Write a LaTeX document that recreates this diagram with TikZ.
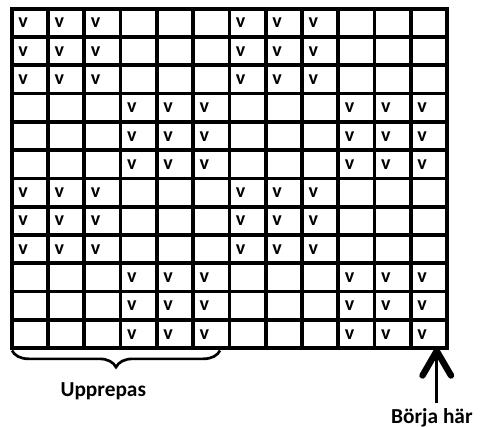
\documentclass[tikz,border=0pt]{standalone}
\usepackage{fontspec}
\setmainfont{Carlito}
\usetikzlibrary{decorations.pathreplacing}
\tikzset{every picture/.style={line width=0.75pt}}
\tikzset{
gridline/.style={line width=2.8pt,line cap=rect},
vcell/.style={anchor=base west,inner sep=0pt,font=\bfseries\fontsize{15}{18}\selectfont},
labeltext/.style={inner sep=0pt,font=\bfseries\fontsize{16}{19}\selectfont}}

\begin{document}
\begin{tikzpicture}[x=0.75pt,y=0.75pt,yscale=-1,xscale=1]
\path[use as bounding box] (0,0) rectangle (481,427);

%Grid: vertical lines
\foreach \c in {0,...,12}
  \draw[gridline] (11.7+\c*36.28,8.7) -- (11.7+\c*36.28,348.06);
%Grid: horizontal lines
\foreach \r in {0,...,12}
  \draw[gridline] (11.7,8.7+\r*28.28) -- (447.06,8.7+\r*28.28);

% v marks, in blocks of 3x3
\foreach \r in {0,...,11}
  \foreach \c in {0,...,11}{
    \pgfmathtruncatemacro\blk{mod(int(\r/3)+int(\c/3),2)}
    \ifnum\blk=0
      \node[vcell] (v-\r-\c) at (17.8+\c*36.28,28+\r*28.28) {v};
    \fi}

%Brace under the first six columns
\draw[line width=2pt,decorate,decoration={brace,mirror,amplitude=12.5pt}] (12,350.5) -- (220,350.5);

% Text Node
\node[labeltext,anchor=base] (upprepas) at (103.3,396) {Upprepas};
% Text Node
\node[labeltext,anchor=base west] (borja) at (390.7,423) {Börja här};

%Arrow
\coordinate (arrowtip) at (436.7,351);
\coordinate (arrowtail) at (436.7,403);
\draw[line width=1.9pt] (arrowtail) -- (arrowtip);
\draw[line width=4.8pt,line cap=round,line join=round] (422.5,375.5) -- (arrowtip) -- (451,375.5);

\end{tikzpicture}
\end{document}
